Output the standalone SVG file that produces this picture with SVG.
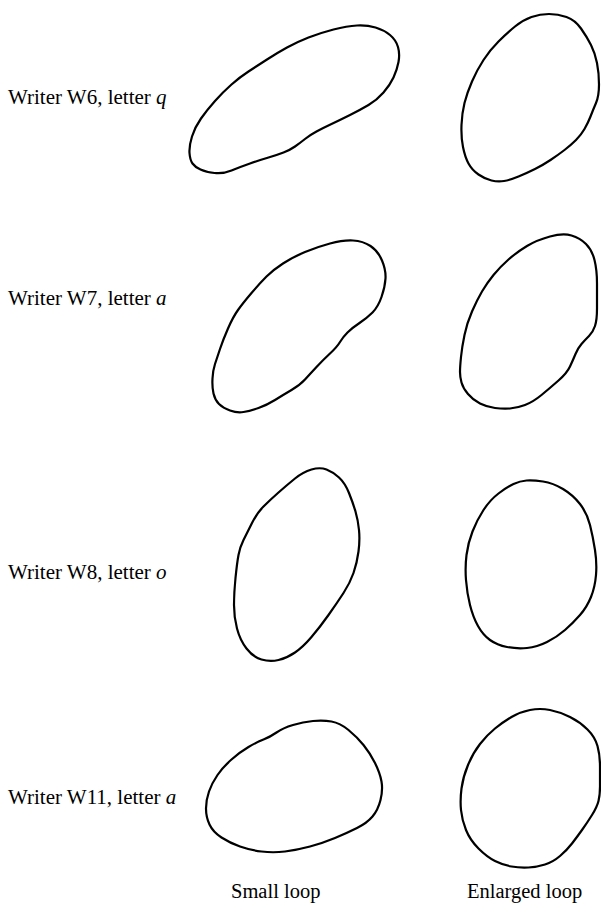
<svg xmlns="http://www.w3.org/2000/svg" width="601" height="905" viewBox="0 0 601 905">
<style>
.loop{fill:none;stroke:#000;stroke-width:2.2;stroke-linejoin:round}
.lbl{font-family:"Liberation Serif","Times New Roman",serif;font-size:21px;fill:#000}
.cap{font-size:20.5px}
.it{font-style:italic}
</style>
<rect width="601" height="905" fill="#fff"/>
<g id="labels">
<text class="lbl" x="8" y="104">Writer W6, letter <tspan class="it">q</tspan></text>
<text class="lbl" x="8" y="305">Writer W7, letter <tspan class="it">a</tspan></text>
<text class="lbl" x="8" y="579">Writer W8, letter <tspan class="it">o</tspan></text>
<text class="lbl" x="8" y="804">Writer W11, letter <tspan class="it">a</tspan></text>
<text class="lbl cap" x="231" y="898">Small loop</text>
<text class="lbl cap" x="467" y="898">Enlarged loop</text>
</g>
<g id="w6-small"><path class="loop" d="M 189.5,153 Q 189,146 192,136.5 Q 195,127 201,118.5 Q 207,110 215,101 Q 223,92 231.5,84.5 Q 240,77 248.5,71.5 Q 257,66 267,59.5 Q 277,53 287,47.5 Q 297,42 308.5,37.5 Q 320,33 333.5,29.5 Q 347,26 357,25.5 Q 367,25 375.5,27.5 Q 384,30 390,35 Q 396,40 398,47 Q 400,54 398.5,62 Q 397,70 393.5,77.5 Q 390,85 383.5,92.5 Q 377,100 368.5,105 Q 360,110 350,115 Q 340,120 331.5,124 Q 323,128 316.5,131.5 Q 310,135 305,139 Q 300,143 295,146.5 Q 290,150 283.5,152.5 Q 277,155 268.5,157.5 Q 260,160 250,163.5 Q 240,167 231.5,170.5 Q 223,174 214.5,173 Q 206,172 200.5,169.5 Q 195,167 192.5,163.5 Q 190,160 189.5,153 Z"/></g>
<g id="w6-enlarged"><path class="loop" d="M 549,14 Q 558,14 566.5,17 Q 575,20 581,28.5 Q 587,37 591,45 Q 595,53 597,63 Q 599,73 599,84.5 Q 599,96 596,103 Q 593,110 590.5,116.5 Q 588,123 584.5,129 Q 581,135 576,140 Q 571,145 564.5,150 Q 558,155 550.5,160 Q 543,165 535,169 Q 527,173 518.5,176.5 Q 510,180 504,181 Q 498,182 491.5,180.5 Q 485,179 478.5,174.5 Q 472,170 468.5,163.5 Q 465,157 463,147 Q 461,137 461.5,125 Q 462,113 464.5,103 Q 467,93 472,81.5 Q 477,70 483.5,60 Q 490,50 498.5,41.5 Q 507,33 515,26.5 Q 523,20 531.5,17 Q 540,14 549,14 Z"/></g>
<g id="w7-small"><path class="loop" d="M 353,240.5 Q 363,241 370.5,246 Q 378,251 382,260.5 Q 386,270 385.5,278.5 Q 385,287 381.5,297 Q 378,307 372.5,312.5 Q 367,318 359.5,323 Q 352,328 347.5,332.5 Q 343,337 340,342 Q 337,347 330,353.5 Q 323,360 316.5,367 Q 310,374 305,379.5 Q 300,385 291.5,390 Q 283,395 275,400 Q 267,405 258.5,408 Q 250,411 243.5,412 Q 237,413 230,410.5 Q 223,408 219,404 Q 215,400 213.5,393.5 Q 212,387 212.5,378.5 Q 213,370 215,364 Q 217,358 220,349 Q 223,340 228,328.5 Q 233,317 238,310 Q 243,303 251.5,293 Q 260,283 266.5,276.5 Q 273,270 283,263.5 Q 293,257 305,252 Q 317,247 330,243.5 Q 343,240 353,240.5 Z"/></g>
<g id="w7-enlarged"><path class="loop" d="M 571.5,235.5 Q 580,238 586,244 Q 592,250 594.5,260 Q 597,270 597,283.5 Q 597,297 597,308.5 Q 597,320 595,326 Q 593,332 589,336 Q 585,340 581.5,344 Q 578,348 575.5,354 Q 573,360 570,366.5 Q 567,373 558.5,380.5 Q 550,388 541.5,395 Q 533,402 525,405 Q 517,408 510,408.5 Q 503,409 495,408 Q 487,407 480,403.5 Q 473,400 468,394 Q 463,388 461.5,382.5 Q 460,377 460,372 Q 460,367 461,357 Q 462,347 464.5,335 Q 467,323 472,311.5 Q 477,300 482,291.5 Q 487,283 493.5,275 Q 500,267 508.5,259.5 Q 517,252 527,246 Q 537,240 550,236.5 Q 563,233 571.5,235.5 Z"/></g>
<g id="w8-small"><path class="loop" d="M 326.5,469.5 Q 333,472 339,477.5 Q 345,483 349,493 Q 353,503 355.5,511.5 Q 358,520 359,530 Q 360,540 358.5,551.5 Q 357,563 353.5,573 Q 350,583 343.5,593 Q 337,603 328.5,615 Q 320,627 311.5,637 Q 303,647 295,652.5 Q 287,658 278.5,660 Q 270,662 261.5,659.5 Q 253,657 246.5,648.5 Q 240,640 237,628.5 Q 234,617 234,605 Q 234,593 235.5,578 Q 237,563 238.5,555 Q 240,547 243.5,540 Q 247,533 252,523 Q 257,513 263.5,506.5 Q 270,500 278.5,492.5 Q 287,485 295,478.5 Q 303,472 311.5,469.5 Q 320,467 326.5,469.5 Z"/></g>
<g id="w8-enlarged"><path class="loop" d="M 543,481.5 Q 553,483 563,489 Q 573,495 580,504 Q 587,513 590,525 Q 593,537 595,550 Q 597,563 596,575 Q 595,587 591,597 Q 587,607 580,615 Q 573,623 565,630 Q 557,637 547,642 Q 537,647 527,648 Q 517,649 507,647 Q 497,645 490,640 Q 483,635 478,626 Q 473,617 470,605 Q 467,593 466,580 Q 465,567 466.5,555 Q 468,543 472.5,531.5 Q 477,520 483.5,510 Q 490,500 498.5,493.5 Q 507,487 513.5,484 Q 520,481 526.5,480.5 Q 533,480 543,481.5 Z"/></g>
<g id="w11-small"><path class="loop" d="M 331.5,721.5 Q 340,723 348.5,730 Q 357,737 363.5,745 Q 370,753 375,763 Q 380,773 381.5,781.5 Q 383,790 380.5,800 Q 378,810 372.5,816.5 Q 367,823 357,828 Q 347,833 335,838 Q 323,843 310,846.5 Q 297,850 285,851.5 Q 273,853 261.5,851.5 Q 250,850 240,846.5 Q 230,843 221.5,837.5 Q 213,832 209.5,824.5 Q 206,817 206,808.5 Q 206,800 209,791.5 Q 212,783 217.5,775 Q 223,767 231.5,759.5 Q 240,752 248.5,747 Q 257,742 263.5,739.5 Q 270,737 276.5,732.5 Q 283,728 293,725 Q 303,722 313,721 Q 323,720 331.5,721.5 Z"/></g>
<g id="w11-enlarged"><path class="loop" d="M 550,710 Q 560,712 570,717 Q 580,722 587.5,729.5 Q 595,737 597.5,746 Q 600,755 600,766.5 Q 600,778 600,786.5 Q 600,795 598.5,801 Q 597,807 592,815 Q 587,823 582,830 Q 577,837 572,843.5 Q 567,850 560,856 Q 553,862 545,864.5 Q 537,867 528.5,867.5 Q 520,868 511.5,866.5 Q 503,865 495,861 Q 487,857 478.5,848.5 Q 470,840 466,830 Q 462,820 461,810 Q 460,800 461.5,788.5 Q 463,777 468,765 Q 473,753 480,744 Q 487,735 495,728.5 Q 503,722 511.5,717 Q 520,712 530,710 Q 540,708 550,710 Z"/></g>
<g id="connectors"/>
</svg>
